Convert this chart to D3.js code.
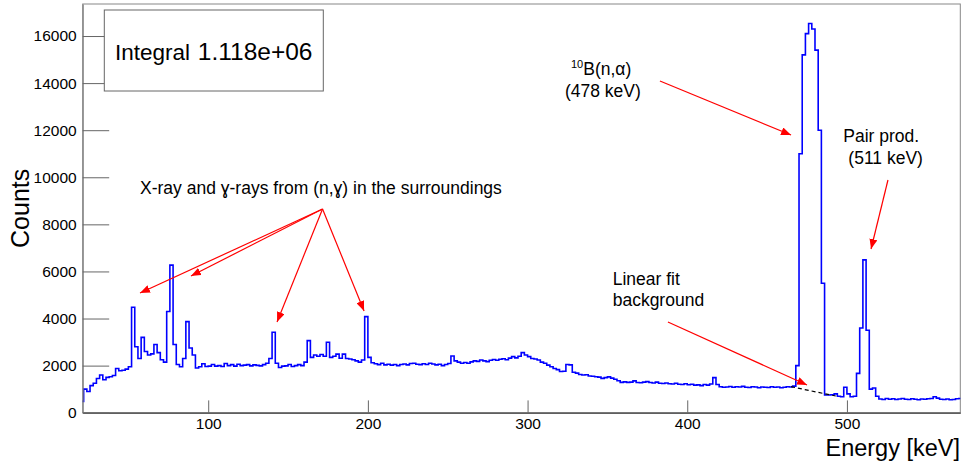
<!DOCTYPE html>
<html>
<head>
<meta charset="utf-8">
<script src="https://cdn.jsdelivr.net/npm/d3@7"></script>
<style>
  body { margin: 0; background: #fff; }
  svg { display: block; }
  text { font-family: 'Liberation Sans', Arial, Helvetica, sans-serif; fill: #000; }
</style>
</head>
<body>
<script>
// histogram: 2 keV bins, first bin starts at 20 keV
const binStart = 20;
const binWidth = 2;
const counts = [
  480, 1000, 900, 1150, 1250, 1450, 1600, 1400, 1500, 1530,      // 20-38
  1580, 1880, 1780, 1800, 1850, 1950, 4480, 2800, 2300, 3200,     // 40-58
  2600, 2450, 2500, 2900, 2550, 2250, 2150, 4300, 6270, 2900,     // 60-78
  2050, 1950, 2300, 3870, 2750, 2450, 1900, 1950, 2080, 1960,     // 80-98
  1980, 2050, 1980, 2000, 1960, 2090, 2000, 2040, 1980, 2060,     // 100-118
  2000, 2020, 2040, 1990, 2030, 2010, 1990, 2040, 2100, 2300,     // 120-138
  3415, 2100, 1920, 1980, 1990, 2050, 1960, 2000, 2040, 2000,     // 140-158
  2150, 3060, 2350, 2450, 2400, 2470, 2400, 2990, 2350, 2400,     // 160-178
  2490, 2310, 2490, 2300, 2280, 2250, 2200, 2150, 2240, 4080,     // 180-198
  2350, 2120, 2080, 2040, 2100, 2030, 2060, 2020, 2050, 2000,     // 200-218
  2050, 2070, 2030, 2090, 2100, 2060, 2040, 2080, 2050, 2100,     // 220-238
  2070, 2030, 2060, 2000, 2050, 2090, 2410, 2200, 2150, 2100,     // 240-258
  2130, 2100, 2160, 2200, 2180, 2240, 2200, 2170, 2230, 2260,     // 260-278
  2230, 2270, 2290, 2250, 2320, 2380, 2330, 2400, 2550, 2450,     // 280-298
  2380, 2300, 2280, 2240, 2150, 2100, 2020, 1950, 1880, 1830,     // 300-318
  1750, 1760, 2050, 2030, 1720, 1680, 1620, 1600, 1610, 1560,     // 320-338
  1550, 1530, 1510, 1460, 1490, 1520, 1470, 1420, 1360, 1290,     // 340-358
  1310, 1290, 1300, 1350, 1280, 1270, 1300, 1320, 1280, 1260,     // 360-378
  1300, 1250, 1240, 1260, 1230, 1220, 1250, 1210, 1200, 1230,     // 380-398
  1190, 1210, 1170, 1180, 1150, 1200, 1170, 1220, 1490, 1200,     // 400-418
  1100, 1080, 1090, 1110, 1080, 1100, 1090, 1120, 1080, 1070,     // 420-438
  1100, 1090, 1060, 1090, 1080, 1070, 1100, 1080, 1090, 1060,     // 440-458
  1080, 1100, 1090, 1130, 2000, 11000, 15200, 16100, 16530, 16300, // 460-478
  15400, 12000, 5500, 750, 750, 760, 800, 700, 680, 1080,         // 480-498
  800, 680, 700, 1670, 3600, 6490, 3500, 1000, 1050, 700,         // 500-518
  580, 560, 600, 570, 590, 560, 580, 600, 570, 560,               // 520-538
  590, 570, 550, 580, 570, 590, 600, 680, 620, 570,               // 540-558
  560, 580, 550, 560, 590, 600                                    // 560-570
];

// linear background fit under the 478 keV peak
const fitEnergy = [465, 493];
const fitCounts = [1105, 709];

const xTicks = [100, 200, 300, 400, 500];
const yTicks = [0, 2000, 4000, 6000, 8000, 10000, 12000, 14000, 16000];
const integralValue = '1.118e+06';

// arrows in data units: [fromE, fromC, toE, toC]
const arrows = [
  [171.6, 8652, 57.3, 5084],
  [171.6, 8652, 89.2, 5806],
  [171.6, 8652, 143.1, 3853],
  [171.6, 8652, 197.6, 4320],
  [382.9, 14089, 465.0, 11795],
  [525.7, 9884, 515.1, 6953],
  [387.9, 3853, 475.0, 1177]
];

const width = 965, height = 468;
const margin = {top: 4, right: 4.7, bottom: 55.3, left: 82.7};

const svg = d3.select('body').append('svg')
  .attr('width', width)
  .attr('height', height);

const x = d3.scaleLinear().domain([21.4, 571]).range([margin.left, width - margin.right]);
const y = d3.scaleLinear().domain([0, 17360]).range([height - margin.bottom, margin.top]);

svg.append('clipPath').attr('id', 'plot')
  .append('rect')
    .attr('x', margin.left).attr('y', margin.top)
    .attr('width', width - margin.left - margin.right)
    .attr('height', height - margin.top - margin.bottom);

// frame
svg.append('rect')
  .attr('x', margin.left).attr('y', margin.top)
  .attr('width', width - margin.left - margin.right)
  .attr('height', height - margin.top - margin.bottom)
  .attr('fill', 'none')
  .attr('stroke', '#888');

// histogram outline
const pts = [];
counts.forEach((c, i) => {
  const e0 = binStart + i * binWidth;
  pts.push([e0, c], [e0 + binWidth, c]);
});
const line = d3.line().x(d => x(d[0])).y(d => y(d[1]));

svg.append('path')
  .datum(pts)
  .attr('clip-path', 'url(#plot)')
  .attr('d', line)
  .attr('fill', 'none')
  .attr('stroke', '#0000ff')
  .attr('stroke-width', 1.6);

// dashed fit
svg.append('path')
  .datum(fitEnergy.map((e, i) => [e, fitCounts[i]]))
  .attr('d', line)
  .attr('fill', 'none')
  .attr('stroke', '#000')
  .attr('stroke-width', 1.2)
  .attr('stroke-dasharray', '4,3');

// axes
const xMinor = d3.range(40, 571, 20).filter(v => v % 100 !== 0);
const yMinor = d3.range(0, 17360, 500).filter(v => v % 2000 !== 0);

const gx = svg.append('g').attr('transform', 'translate(0,' + (height - margin.bottom) + ')');
gx.call(d3.axisBottom(x).tickValues(xMinor).tickSize(-6.2).tickSizeOuter(0).tickFormat(''));
gx.call(d3.axisBottom(x).tickValues(xTicks).tickSize(-12.3).tickSizeOuter(0).tickPadding(5).tickFormat(d3.format('d')));

const gy = svg.append('g').attr('transform', 'translate(' + margin.left + ',0)');
gy.call(d3.axisLeft(y).tickValues(yMinor).tickSize(-13.2).tickSizeOuter(0).tickFormat(''));
gy.call(d3.axisLeft(y).tickValues(yTicks).tickSize(-26.5).tickSizeOuter(0).tickPadding(6).tickFormat(d3.format('d')));

svg.selectAll('.tick line').attr('stroke', '#666');
gy.select('.domain').attr('stroke', '#777');
gx.select('.domain').attr('stroke', '#222');
svg.selectAll('.tick text')
  .style('font-family', "'Liberation Sans', Arial, sans-serif")
  .style('font-size', '15.5px')
  .attr('fill', '#111');

// axis titles
svg.append('text')
  .attr('x', width - 5).attr('y', 455.5)
  .attr('text-anchor', 'end')
  .style('font-size', '23.5px')
  .text('Energy [keV]');

svg.append('text')
  .attr('transform', 'translate(29,' + (margin.top + height - margin.bottom) / 2 + ') rotate(-90)')
  .attr('text-anchor', 'middle')
  .style('font-size', '25px')
  .text('Counts');

// stats box
svg.append('rect')
  .attr('x', 104.3).attr('y', 10)
  .attr('width', 219).attr('height', 81)
  .attr('fill', '#fff')
  .attr('stroke', '#666');
svg.append('text').attr('x', 115).attr('y', 59.5)
  .style('font-size', '22.5px').text('Integral');
svg.append('text').attr('x', 312.5).attr('y', 59.5)
  .attr('text-anchor', 'end')
  .style('font-size', '24.5px').text(integralValue);

// arrows
svg.append('defs').append('marker')
  .attr('id', 'head')
  .attr('markerUnits', 'userSpaceOnUse')
  .attr('viewBox', '0 0 10 8')
  .attr('markerWidth', 10).attr('markerHeight', 8)
  .attr('refX', 10).attr('refY', 4)
  .attr('orient', 'auto')
  .append('path')
    .attr('d', 'M0,0L10,4L0,8Z')
    .attr('fill', '#ff0000');

svg.append('g').selectAll('line')
  .data(arrows)
  .join('line')
    .attr('x1', d => x(d[0])).attr('y1', d => y(d[1]))
    .attr('x2', d => x(d[2])).attr('y2', d => y(d[3]))
    .attr('stroke', '#ff0000')
    .attr('stroke-width', 1.2)
    .attr('marker-end', 'url(#head)');

// annotation texts
const note = (e, c, size, txt) => svg.append('text')
  .attr('x', x(e)).attr('y', y(c))
  .style('font-size', size + 'px')
  .text(txt);

note(57.3, 9289, 17.5, 'X-ray and \u0263-rays from (n,\u0263) in the surroundings');

const boron = svg.append('text')
  .attr('x', x(327.2)).attr('y', y(14344))
  .style('font-size', '17.5px');
boron.append('tspan').attr('dy', -7).style('font-size', '11px').text('10');
boron.append('tspan').attr('dy', 7).text('B(n,\u03b1)');
note(323.4, 13410, 17.5, '(478 keV)');

note(497.7, 11511, 17.5, 'Pair prod.');
note(500.9, 10564, 17.5, '(511 keV)');

note(353.3, 5424, 17.5, 'Linear fit');
note(353.3, 4532, 17.5, 'background');
</script>
</body>
</html>
